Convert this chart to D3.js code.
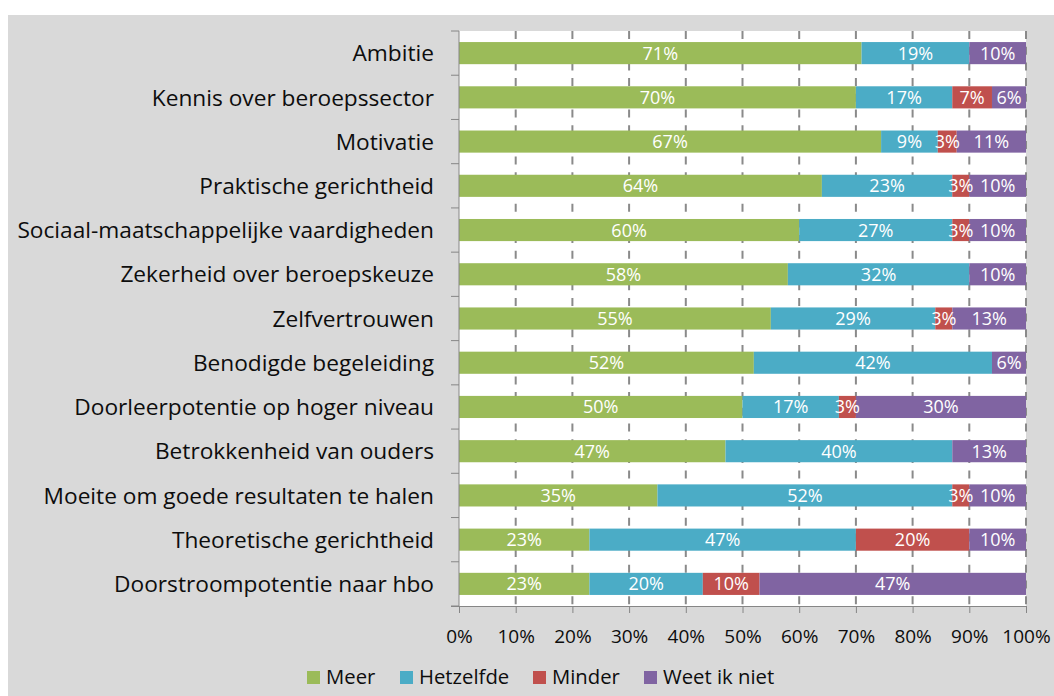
<!DOCTYPE html>
<html>
<head>
<meta charset="utf-8">
<script src="https://cdn.jsdelivr.net/npm/d3@7"></script>
<style>
  html, body { margin: 0; padding: 0; background: #ffffff; }
  svg { display: block; }
  text { font-family: "Open Sans", Lato, sans-serif; }
</style>
</head>
<body>
<svg id="chart" width="1054" height="696"></svg>
<script>
// ---- data ----
const categories = [
  "Ambitie",
  "Kennis over beroepssector",
  "Motivatie",
  "Praktische gerichtheid",
  "Sociaal-maatschappelijke vaardigheden",
  "Zekerheid over beroepskeuze",
  "Zelfvertrouwen",
  "Benodigde begeleiding",
  "Doorleerpotentie op hoger niveau",
  "Betrokkenheid van ouders",
  "Moeite om goede resultaten te halen",
  "Theoretische gerichtheid",
  "Doorstroompotentie naar hbo"
];
const meer      = [71, 70, 67, 64, 60, 58, 55, 52, 50, 47, 35, 23, 23];
const hetzelfde = [19, 17,  9, 23, 27, 32, 29, 42, 17, 40, 52, 47, 20];
const minder    = [ 0,  7,  3,  3,  3,  0,  3,  0,  3,  0,  3, 20, 10];
const weetNiet  = [10,  6, 11, 10, 10, 10, 13,  6, 30, 13, 10, 10, 47];
const seriesNames = ["Meer", "Hetzelfde", "Minder", "Weet ik niet"];
const seriesColors = ["#9bbb59", "#4bacc6", "#c0504d", "#8064a2"];
const xTickValues = [0, 0.1, 0.2, 0.3, 0.4, 0.5, 0.6, 0.7, 0.8, 0.9, 1.0];

// ---- build table ----
const seriesArrays = [meer, hetzelfde, minder, weetNiet];
const rows = categories.map((c, i) => {
  const r = { category: c };
  seriesNames.forEach((s, j) => { r[s] = seriesArrays[j][i]; });
  return r;
});

const svg = d3.select("#chart");
const W = 1054, H = 696;
const plot = { left: 459, right: 1026, top: 31, bottom: 606 };

// chart background
svg.append("rect").attr("x", 8).attr("y", 15).attr("width", W - 8).attr("height", H - 15).attr("fill", "#d9d9d9");
// plot area
svg.append("rect").attr("x", plot.left).attr("y", plot.top)
  .attr("width", plot.right - plot.left).attr("height", plot.bottom - plot.top).attr("fill", "#ffffff");

const x = d3.scaleLinear().domain([0, 1]).range([plot.left, plot.right]);
const y = d3.scaleBand().domain(categories).range([plot.top, plot.bottom]).paddingInner(0.5).paddingOuter(0.25);

// gridlines
svg.append("g").selectAll("line")
  .data(xTickValues.filter(v => v > 0))
  .join("line")
  .attr("x1", d => x(d)).attr("x2", d => x(d))
  .attr("y1", plot.top).attr("y2", plot.bottom)
  .attr("stroke", "#8a8a8a").attr("stroke-width", 2)
  .attr("stroke-dasharray", "8,7.7");

// stacked bars (100% stacked)
const stack = d3.stack().keys(seriesNames).offset(d3.stackOffsetExpand);
const stacked = stack(rows);

const groups = svg.append("g").selectAll("g")
  .data(stacked)
  .join("g")
  .attr("fill", (d, i) => seriesColors[i]);

groups.selectAll("rect")
  .data(d => d.map(p => ({ p, key: d.key })))
  .join("rect")
  .attr("x", d => x(d.p[0]))
  .attr("width", d => Math.max(0, x(d.p[1]) - x(d.p[0])))
  .attr("y", d => y(d.p.data.category))
  .attr("height", y.bandwidth());

// data labels
const labelFs = 18;
const labelG = svg.append("g");
stacked.forEach(s => {
  s.forEach(p => {
    const v = p.data[s.key];
    if (!v) return;
    labelG.append("text")
      .attr("x", x((p[0] + p[1]) / 2))
      .attr("y", y(p.data.category) + y.bandwidth() / 2 + 0.36 * labelFs)
      .attr("text-anchor", "middle")
      .attr("fill", "#ffffff")
      .attr("font-size", labelFs)
      .text(v + "%");
  });
});

// y axis
const catFs = 22.7;
const yAxis = svg.append("g");
yAxis.append("line").attr("x1", plot.left).attr("x2", plot.left)
  .attr("y1", plot.top).attr("y2", plot.bottom).attr("stroke", "#868686").attr("stroke-width", 1);
const boundaries = d3.range(categories.length + 1).map(i => plot.top + i * (plot.bottom - plot.top) / categories.length);
yAxis.selectAll("line.tick").data(boundaries).join("line").attr("class", "tick")
  .attr("x1", plot.left - 8).attr("x2", plot.left)
  .attr("y1", d => d).attr("y2", d => d)
  .attr("stroke", "#868686").attr("stroke-width", 1);
yAxis.selectAll("text").data(categories).join("text")
  .attr("x", plot.left - 25)
  .attr("y", d => y(d) + y.bandwidth() / 2 + 0.36 * catFs)
  .attr("text-anchor", "end")
  .attr("fill", "#0d0d0d")
  .attr("font-size", catFs)
  .text(d => d);

// x axis
const xAxis = svg.append("g").attr("transform", `translate(0,${plot.bottom})`)
  .call(d3.axisBottom(x).tickValues(xTickValues).tickFormat(d3.format(".0%")).tickSize(7));
xAxis.select(".domain").attr("stroke", "#868686").attr("d", `M${plot.left - 8},0.5H${plot.right}`);
xAxis.selectAll(".tick line").attr("stroke", "#868686");
xAxis.selectAll(".tick text")
  .attr("y", 37).attr("dy", null)
  .attr("font-size", 19).attr("fill", "#0d0d0d")
  .attr("font-family", "'Open Sans', Lato, sans-serif");

// legend
const legendX = [307, 400, 533, 644];
const legend = svg.append("g");
seriesNames.forEach((s, i) => {
  const g = legend.append("g").attr("transform", `translate(${legendX[i]},684)`);
  g.append("rect").attr("x", 0).attr("y", -13).attr("width", 13).attr("height", 13).attr("fill", seriesColors[i]);
  g.append("text").attr("x", 19).attr("y", 0)
    .attr("font-size", 20.3).attr("fill", "#0d0d0d").text(s);
});
</script>
</body>
</html>
